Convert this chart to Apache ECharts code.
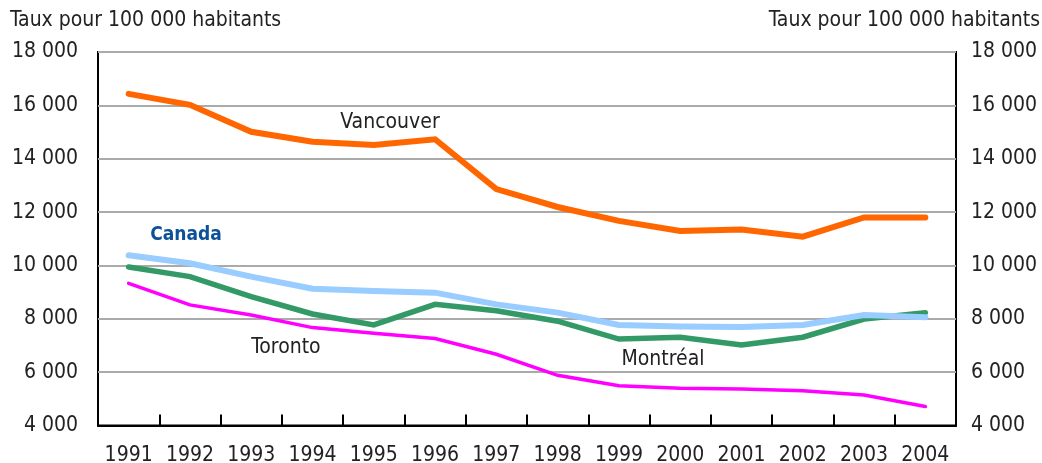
<!DOCTYPE html>
<html>
<head>
<meta charset="utf-8">
<script src="https://cdn.jsdelivr.net/npm/echarts@6/dist/echarts.min.js"></script>
<style>
html,body{margin:0;padding:0;background:#fff;}
#chart{width:1042px;height:463px;}
</style>
</head>
<body>
<div id="chart"></div>
<script>
const years = ['1991','1992','1993','1994','1995','1996','1997','1998','1999','2000','2001','2002','2003','2004'];
const vancouver = [16430, 16020, 15010, 14640, 14510, 14730, 12860, 12190, 11670, 11290, 11350, 11080, 11800, 11800];
const canada    = [10380, 10080, 9580, 9130, 9040, 8980, 8540, 8230, 7770, 7710, 7690, 7770, 8140, 8060];
const montreal  = [9940, 9580, 8830, 8180, 7770, 8540, 8300, 7910, 7240, 7310, 7020, 7310, 7990, 8230];
const toronto   = [9330, 8520, 8140, 7670, 7460, 7260, 6670, 5880, 5490, 5400, 5370, 5300, 5140, 4710];
const yTicks = {min: 4000, max: 18000, interval: 2000};
const axisTitle = 'Taux pour 100 000 habitants';
const seriesNames = {vancouver: 'Vancouver', canada: 'Canada', montreal: 'Montréal', toronto: 'Toronto'};

const FONT = '"DejaVu Sans Condensed", "DejaVu Sans", sans-serif';
const fmt = v => String(v).replace(/\B(?=(\d{3})+(?!\d))/g, ' ');

const chart = echarts.init(document.getElementById('chart'), null, {renderer: 'canvas'});
const yAxisBase = {
  type: 'value', min: yTicks.min, max: yTicks.max, interval: yTicks.interval,
  axisLine: {show: false}, axisTick: {show: false},
  axisLabel: {formatter: fmt, fontFamily: FONT, fontSize: 21, color: '#222', margin: 20}
};
chart.setOption({
  animation: false,
  backgroundColor: '#fff',
  grid: {left: 98, right: 86, top: 52, bottom: 37.5, containLabel: false, outerBoundsMode: 'none', show: true, borderColor: '#000', borderWidth: 2, backgroundColor: 'transparent'},
  xAxis: {
    type: 'category', data: years, boundaryGap: true,
    axisLine: {show: true, lineStyle: {color: '#000', width: 2}},
    axisTick: {show: true, inside: true, length: 11, interval: 0, lineStyle: {color: '#000', width: 2}},
    axisLabel: {interval: 0, fontFamily: FONT, fontSize: 21, color: '#222', margin: 20},
    splitLine: {show: false}
  },
  yAxis: [
    Object.assign({}, yAxisBase, {position: 'left', splitLine: {show: true, lineStyle: {color: '#aaaaaa', width: 2}}}),
    Object.assign({}, yAxisBase, {position: 'right', axisLabel: Object.assign({}, yAxisBase.axisLabel, {margin: 15}), splitLine: {show: false}})
  ],
  graphic: [
    {type: 'text', left: 10, top: 10, style: {text: axisTitle, font: '21px ' + FONT, fill: '#222'}},
    {type: 'text', right: 2, top: 10, style: {text: axisTitle, font: '21px ' + FONT, fill: '#222', textAlign: 'right'}},
    {type: 'text', x: 390, y: 123, style: {text: seriesNames.vancouver, font: '21px ' + FONT, fill: '#222', textAlign: 'center', textVerticalAlign: 'middle'}},
    {type: 'text', x: 186, y: 235, style: {text: seriesNames.canada, font: 'bold 19px ' + FONT, fill: '#0d5199', textAlign: 'center', textVerticalAlign: 'middle'}},
    {type: 'text', x: 286, y: 348, style: {text: seriesNames.toronto, font: '21px ' + FONT, fill: '#222', textAlign: 'center', textVerticalAlign: 'middle'}},
    {type: 'text', x: 663, y: 360, style: {text: seriesNames.montreal, font: '21px ' + FONT, fill: '#222', textAlign: 'center', textVerticalAlign: 'middle'}}
  ],
  series: [
    {name: seriesNames.vancouver, type: 'line', data: vancouver, symbol: 'none', lineStyle: {color: '#ff6600', width: 6, cap: 'round', join: 'miter'}, z: 3},
    {name: seriesNames.montreal, type: 'line', data: montreal, symbol: 'none', lineStyle: {color: '#339966', width: 5.5, cap: 'round', join: 'miter'}, z: 3},
    {name: seriesNames.canada, type: 'line', data: canada, symbol: 'none', lineStyle: {color: '#99ccff', width: 6, cap: 'round', join: 'miter'}, z: 4},
    {name: seriesNames.toronto, type: 'line', data: toronto, symbol: 'none', lineStyle: {color: '#ff00ff', width: 3.5, cap: 'round', join: 'miter'}, z: 5}
  ]
});
</script>
</body>
</html>
